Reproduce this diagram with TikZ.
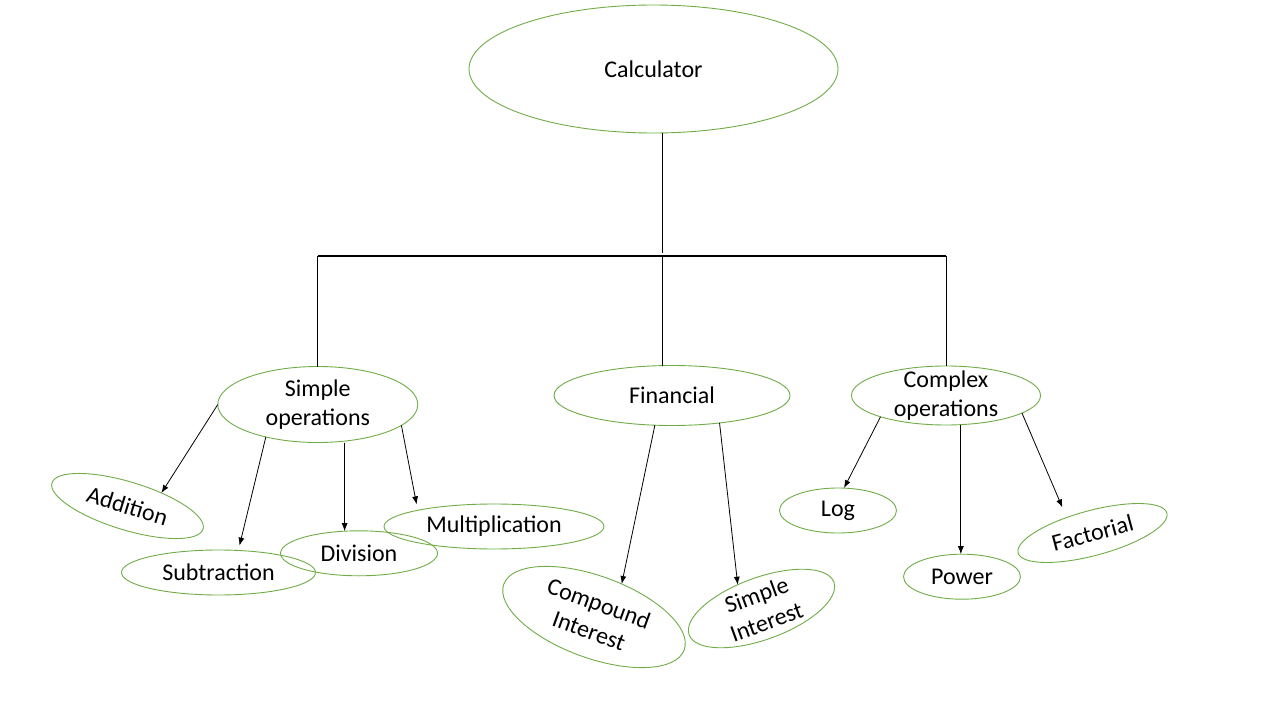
\documentclass[tikz,border=0pt]{standalone}
\usepackage{fontspec}
\setmainfont{Carlito}
\usetikzlibrary{shapes.geometric,arrows.meta,calc}
\definecolor{ogreen}{RGB}{112,173,71}
\begin{document}
\begin{tikzpicture}[x=1bp,y=-1bp,
  bub/.style={ellipse, draw=ogreen, line width=0.9bp, inner xsep=0pt, inner ysep=-8bp, outer sep=0pt,
    align=center, font=\fontsize{24bp}{29bp}\selectfont, text=black},
  arr/.style={-{Latex[length=8bp,width=6bp]}, line width=0.8bp},
  link/.style={line width=0.8bp}]
\fill[white] (0,0) rectangle (1280,720);
\useasboundingbox (0,0) rectangle (1280,720);

\node[bub, minimum width=369bp, minimum height=128bp] (calc) at (653.5,69) {Calculator};
\node[bub, minimum width=200bp, minimum height=76bp] (simple) at (317.8,404.5) {Simple\\operations};
\node[bub, minimum width=236bp, minimum height=60bp] (fin) at (672,395.5) {Financial};
\node[bub, minimum width=189bp, minimum height=59bp] (comp) at (946,395.5) {Complex\\operations};
\node[bub, rotate=-17, minimum width=158bp, minimum height=48bp] (add) at (127.5,506) {Addition};
\node[bub, minimum width=194bp, minimum height=45bp] (sub) at (218.5,572.5) {Subtraction};
\node[bub, minimum width=157bp, minimum height=45bp] (div) at (359,553.3) {Division};
\node[bub, minimum width=220bp, minimum height=45bp] (mul) at (494,526.5) {Multiplication};
\node[bub, rotate=-20, minimum width=192bp, minimum height=82bp] (cmpd) at (594,617) {Compound\\Interest};
\node[bub, rotate=20, minimum width=154bp, minimum height=62bp] (sint) at (761.5,608.5) {Simple\\Interest};
\node[bub, minimum width=117bp, minimum height=45bp] (log) at (838,510.5) {Log};
\node[bub, minimum width=117bp, minimum height=45bp] (pow) at (962,576.7) {Power};
\node[bub, rotate=15, minimum width=154bp, minimum height=45bp] (fact) at (1092.5,533) {Factorial};

\coordinate (bus) at (662,256);
\draw[link] (calc.south -| bus) -- ([yshift=3bp]bus);
\draw[link, line width=1.2bp] (simple.north |- bus) -- (comp.north |- bus);
\draw[link] (simple.north |- bus) -- (simple.north);
\draw[link] (bus) -- (bus |- fin.north);
\draw[link] (comp.north |- bus) -- (comp.north);

\draw[arr] (simple.180) -- (add.38);
\draw[arr, shorten >=5bp] (simple.-148) -- (sub.48);
\draw[arr] (simple.south -| div.123) -- (div.123);
\draw[arr, shorten >=6bp] (simple.-14) -- (mul.168);
\draw[arr] (fin.-120) -- (cmpd.70);
\draw[arr] (fin.-30) -- (sint.115);
\draw[arr] (comp.198) -- (log.75);
\draw[arr] (comp.-63) -- (comp.-63 |- pow.north);
\draw[arr, shorten >=11bp] (comp.-13) -- (fact.134);
\end{tikzpicture}
\end{document}
